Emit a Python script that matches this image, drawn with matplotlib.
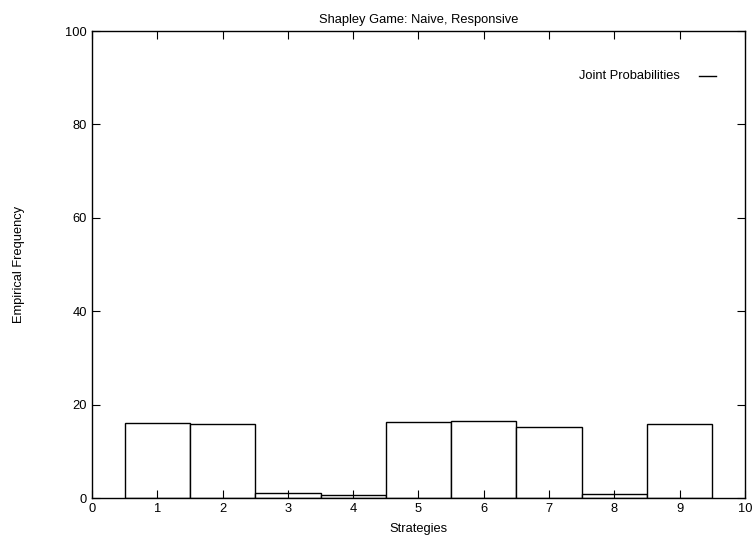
import matplotlib
matplotlib.use("Agg")
import matplotlib.pyplot as plt

# Data
strategies = [1, 2, 3, 4, 5, 6, 7, 8, 9]
freq = [16.1, 16.0, 1.05, 0.65, 16.3, 16.55, 15.2, 1.0, 16.0]

plt.rcParams['font.family'] = ['Liberation Sans', 'DejaVu Sans']
plt.rcParams['font.size'] = 9.3

fig = plt.figure(figsize=(7.56, 5.42), dpi=100)
ax = fig.add_axes([0.1217, 0.0806, 0.8637, 0.8622])

ax.bar(strategies, freq, width=1.0, color='white', edgecolor='black', linewidth=1.0, zorder=1)

ax.set_xlim(0, 10)
ax.set_ylim(0, 100)
ax.set_xticks(range(0, 11))
ax.set_yticks(range(0, 101, 20))
ax.tick_params(direction='in', length=6, top=True, right=True, width=0.8)
for s in ax.spines.values():
    s.set_linewidth(1.0)

ax.set_title("Shapley Game: Naive, Responsive", fontsize=9.3, pad=6)
ax.set_xlabel("Strategies")
ax.xaxis.set_label_coords(0.5, -0.052)
ax.set_ylabel("Empirical Frequency")
ax.yaxis.set_label_coords(-0.102, 0.5)

# gnuplot-style key: text then line sample
ax.text(0.9, 0.903, "Joint Probabilities", transform=ax.transAxes, ha='right', va='center')
ax.plot([0.93, 0.955], [0.903, 0.903], transform=ax.transAxes, color='black', linewidth=1.0)

fig.savefig("out.png", dpi=100)
